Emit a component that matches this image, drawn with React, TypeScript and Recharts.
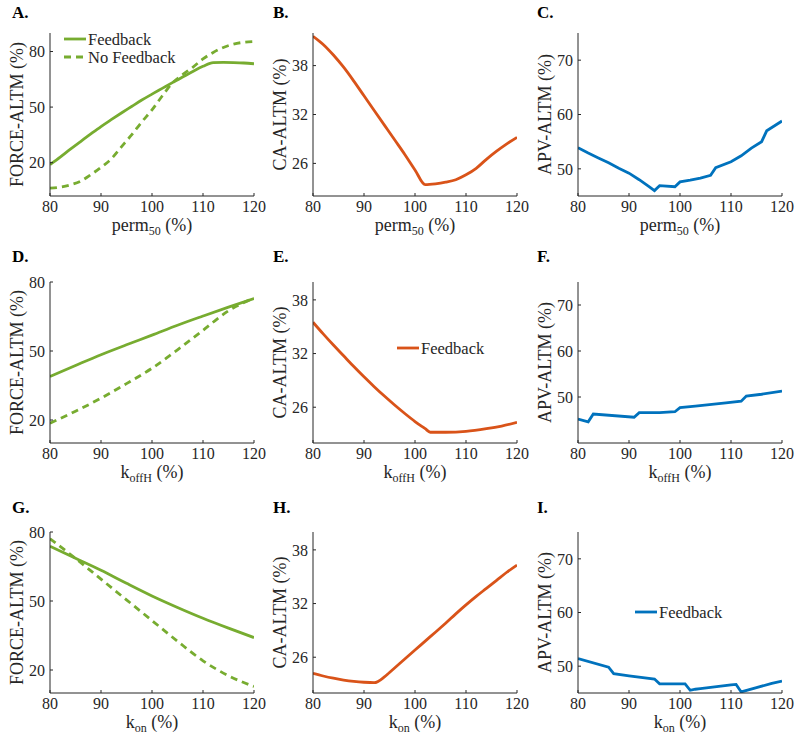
import React from 'react';
import { LineChart, Line, XAxis, YAxis, Legend } from 'recharts';

const GREEN = '#77AC30';
const ORANGE = '#D95319';
const BLUE = '#0072BD';
const AXIS = '#262626';
const FONT = '"Liberation Serif", "Times New Roman", Times, serif';

const xTicks = [80, 90, 100, 110, 120];

// A / B: perm50 sweep
const permX = [80, 82, 84, 86, 88, 90, 92, 94, 96, 98, 100, 102, 104, 106, 108, 110, 112, 114, 116, 118, 120];
const permForceFb = [19, 23, 27.3, 31.4, 35.5, 39.5, 43.2, 46.8, 50.3, 53.8, 57, 60.1, 63.2, 66.2, 69.2, 72, 74, 74.1, 74, 73.8, 73.4];
const permForceNoFb = [6.2, 6.8, 8, 10, 13.5, 17.5, 22, 28.5, 35, 42, 48.5, 56, 63, 67.5, 71.5, 76, 79.5, 82.2, 84, 85, 85.4];
const permCa = [41.6, 40.6, 39.3, 37.8, 36.1, 34.3, 32.5, 30.7, 28.9, 27.1, 25.2, 23.4, 23.5, 23.7, 24, 24.6, 25.4, 26.5, 27.5, 28.4, 29.2];

// C: perm50 -> APV
const permApvX = [80, 82, 84, 86, 88, 90, 92, 94, 95, 96, 99, 100, 102, 104, 106, 107, 110, 112, 114, 116, 117, 120];
const permApv = [53.9, 52.9, 52, 51.1, 50.1, 49.2, 48, 46.7, 46, 46.9, 46.7, 47.6, 47.9, 48.3, 48.8, 50.2, 51.3, 52.4, 53.8, 55, 57, 58.8];

// D: koffH -> force
const koffX = [80, 85, 90, 95, 100, 105, 110, 115, 120];
const koffForceFb = [38.9, 43.7, 48.4, 52.7, 56.9, 61.2, 65.2, 69.1, 72.8];
const koffForceNoFb = [18.6, 23.8, 29.5, 35.8, 42.5, 50.5, 59, 67.5, 73];

// E: koffH -> CA
const koffCaX = [80, 82, 84, 86, 88, 90, 92, 94, 96, 98, 100, 102, 103, 106, 110, 114, 117, 120];
const koffCa = [35.5, 34.2, 32.95, 31.75, 30.55, 29.4, 28.3, 27.25, 26.25, 25.3, 24.4, 23.6, 23.2, 23.2, 23.3, 23.6, 23.9, 24.3];

// F: koffH -> APV
const koffApvX = [80, 82, 83, 91, 92, 96, 99, 100, 103, 109, 112, 113, 116, 120];
const koffApv = [45.2, 44.6, 46.3, 45.6, 46.6, 46.6, 46.8, 47.7, 48, 48.7, 49.1, 50.2, 50.6, 51.3];

// G: kon -> force
const konX = [80, 85, 90, 95, 100, 105, 110, 115, 120];
const konForceFb = [73.8, 68.6, 63.4, 57.7, 52.2, 47.2, 42.5, 38.2, 34.1];
const konForceNoFb = [77.1, 68.5, 59.5, 50.5, 41.5, 32.5, 24, 17.5, 12.8];

// H: kon -> CA
const konCaX = [80, 82, 84, 86, 88, 90, 92, 94, 95, 96, 98, 100, 102, 104, 106, 108, 110, 112, 114, 116, 118, 120];
const konCa = [24.2, 23.9, 23.65, 23.45, 23.3, 23.2, 23.15, 23.8, 24.3, 24.8, 25.8, 26.8, 27.8, 28.8, 29.8, 30.85, 31.85, 32.8, 33.7, 34.6, 35.5, 36.3];

// I: kon -> APV
const konApvX = [80, 86, 87, 90, 95, 96, 101, 102, 103, 104, 110, 111, 112, 115, 118, 120];
const konApv = [51.4, 49.8, 48.6, 48.2, 47.6, 46.7, 46.7, 45.5, 45.7, 45.8, 46.5, 46.6, 45.2, 46, 46.8, 47.2];

const forceTicks = [20, 50, 80];
const caTicks = [26, 32, 38];
const apvTicks = [50, 60, 70];

type Series = { name: string; values: number[]; color: string; dashed?: boolean };

type PanelProps = {
  col: number;
  row: number;
  xs: number[];
  series: Series[];
  yDomain: [number, number];
  yTicks: number[];
  yLabel: string;
  xBase: string;
  xSub: string;
  curve: 'monotone' | 'linear';
  legend?: { left: number; top: number };
};

const plotXs = [50, 313, 578];
const plotYs = [33, 282, 532];
const plotHs = [163, 161, 161];
const plotW = 204;
const legendRow = 18;

const yLabelRenderer = (text: string) => (props: any) => {
  const vb = props.viewBox;
  const cx = vb.x + 17;
  const cy = vb.y + vb.height / 2;
  return (
    <text
      x={cx}
      y={cy}
      transform={`rotate(-90 ${cx} ${cy})`}
      textAnchor="middle"
      dominantBaseline="central"
      fontSize={18}
      fill={AXIS}
      fontFamily={FONT}
    >
      {text}
    </text>
  );
};

const xLabelRenderer = (base: string, sub: string) => (props: any) => {
  const vb = props.viewBox;
  return (
    <text x={vb.x + vb.width / 2} y={vb.y + 35} textAnchor="middle" fontSize={18} fill={AXIS} fontFamily={FONT}>
      {base}
      <tspan fontSize={12} dy={4}>{sub}</tspan>
      <tspan dy={-4}>{' (%)'}</tspan>
    </text>
  );
};

const legendRenderer = (series: Series[]) => () => (
  <svg width={140} height={series.length * legendRow + 2} style={{ overflow: 'visible' }}>
    {series.map((s, i) => (
      <g key={s.name}>
        <line
          x1={0}
          x2={22}
          y1={8 + i * legendRow}
          y2={8 + i * legendRow}
          stroke={s.color}
          strokeWidth={2.8}
          strokeDasharray={s.dashed ? '7 5' : undefined}
        />
        <text x={24} y={8 + i * legendRow} dominantBaseline="central" fontSize={16.5} fill={AXIS} fontFamily={FONT}>
          {s.name}
        </text>
      </g>
    ))}
  </svg>
);

const Panel = ({ col, row, xs, series, yDomain, yTicks, yLabel, xBase, xSub, curve, legend }: PanelProps) => {
  const plotH = plotHs[row];
  const left = plotXs[col] - 50;
  const top = plotYs[row] - 33;
  const width = 50 + plotW + 16;
  const height = 33 + plotH + 45;
  const data = xs.map((x, i) => {
    const rowObj: Record<string, number> = { x };
    series.forEach((s, j) => {
      rowObj[`s${j}`] = s.values[i];
    });
    return rowObj;
  });

  return (
    <div style={{ position: 'absolute', left, top, width, height }}>
      <LineChart width={width} height={height} data={data} margin={{ top: 33, right: 16, bottom: 0, left: 0 }}>
        <XAxis
          dataKey="x"
          type="number"
          domain={[80, 120]}
          ticks={xTicks}
          interval={0}
          allowDataOverflow
          height={45}
          stroke={AXIS}
          tickSize={-3}
          tickMargin={8}
          tick={{ fontSize: 16, fill: AXIS, fontFamily: FONT }}
          label={xLabelRenderer(xBase, xSub)}
        />
        <YAxis
          type="number"
          domain={yDomain}
          ticks={yTicks}
          interval={0}
          allowDataOverflow
          width={50}
          stroke={AXIS}
          tickSize={-3}
          tickMargin={8}
          tick={{ fontSize: 16, fill: AXIS, fontFamily: FONT }}
          label={yLabelRenderer(yLabel)}
        />
        {series.map((s, j) => (
          <Line
            key={s.name}
            type={curve}
            dataKey={`s${j}`}
            name={s.name}
            stroke={s.color}
            strokeWidth={2.8}
            strokeDasharray={s.dashed ? '7 5' : undefined}
            dot={false}
            activeDot={false}
            isAnimationActive={false}
          />
        ))}
        {legend && (
          <Legend
            layout="vertical"
            align="center"
            verticalAlign="middle"
            content={legendRenderer(series)}
            wrapperStyle={{ left: legend.left, top: legend.top, width: 140 }}
          />
        )}
      </LineChart>
    </div>
  );
};

const letters = ['A.', 'B.', 'C.', 'D.', 'E.', 'F.', 'G.', 'H.', 'I.'];
const letterXs = [12, 273, 537];
const letterYs = [18, 262, 513];

const fb = (values: number[], color: string): Series => ({ name: 'Feedback', values, color });
const nofb = (values: number[], color: string): Series => ({ name: 'No Feedback', values, color, dashed: true });

export default function App() {
  return (
    <div
      style={{
        position: 'absolute',
        left: 0,
        top: 0,
        width: 800,
        height: 743,
        background: '#fff',
        fontFamily: FONT,
        overflow: 'hidden',
      }}
    >
      <Panel
        col={0}
        row={0}
        xs={permX}
        series={[fb(permForceFb, GREEN), nofb(permForceNoFb, GREEN)]}
        yDomain={[2, 90]}
        yTicks={forceTicks}
        yLabel="FORCE-ALTM (%)"
        xBase="perm"
        xSub="50"
        curve="monotone"
        legend={{ left: 64, top: 31 }}
      />
      <Panel
        col={1}
        row={0}
        xs={permX}
        series={[fb(permCa, ORANGE)]}
        yDomain={[22, 42]}
        yTicks={caTicks}
        yLabel="CA-ALTM (%)"
        xBase="perm"
        xSub="50"
        curve="monotone"
      />
      <Panel
        col={2}
        row={0}
        xs={permApvX}
        series={[fb(permApv, BLUE)]}
        yDomain={[45, 75]}
        yTicks={apvTicks}
        yLabel="APV-ALTM (%)"
        xBase="perm"
        xSub="50"
        curve="linear"
      />
      <Panel
        col={0}
        row={1}
        xs={koffX}
        series={[fb(koffForceFb, GREEN), nofb(koffForceNoFb, GREEN)]}
        yDomain={[10, 80]}
        yTicks={forceTicks}
        yLabel="FORCE-ALTM (%)"
        xBase="k"
        xSub="offH"
        curve="monotone"
      />
      <Panel
        col={1}
        row={1}
        xs={koffCaX}
        series={[fb(koffCa, ORANGE)]}
        yDomain={[22, 40]}
        yTicks={caTicks}
        yLabel="CA-ALTM (%)"
        xBase="k"
        xSub="offH"
        curve="monotone"
        legend={{ left: 134, top: 91 }}
      />
      <Panel
        col={2}
        row={1}
        xs={koffApvX}
        series={[fb(koffApv, BLUE)]}
        yDomain={[40, 75]}
        yTicks={apvTicks}
        yLabel="APV-ALTM (%)"
        xBase="k"
        xSub="offH"
        curve="linear"
      />
      <Panel
        col={0}
        row={2}
        xs={konX}
        series={[fb(konForceFb, GREEN), nofb(konForceNoFb, GREEN)]}
        yDomain={[10, 80]}
        yTicks={forceTicks}
        yLabel="FORCE-ALTM (%)"
        xBase="k"
        xSub="on"
        curve="monotone"
      />
      <Panel
        col={1}
        row={2}
        xs={konCaX}
        series={[fb(konCa, ORANGE)]}
        yDomain={[22, 40]}
        yTicks={caTicks}
        yLabel="CA-ALTM (%)"
        xBase="k"
        xSub="on"
        curve="monotone"
      />
      <Panel
        col={2}
        row={2}
        xs={konApvX}
        series={[fb(konApv, BLUE)]}
        yDomain={[45, 75]}
        yTicks={apvTicks}
        yLabel="APV-ALTM (%)"
        xBase="k"
        xSub="on"
        curve="linear"
        legend={{ left: 107, top: 105 }}
      />
      <svg width={800} height={743} style={{ position: 'absolute', left: 0, top: 0, pointerEvents: 'none' }}>
        {letters.map((l, i) => (
          <text
            key={l}
            x={letterXs[i % 3]}
            y={letterYs[Math.floor(i / 3)]}
            fontSize={17}
            fontWeight="bold"
            fill="#000"
            fontFamily={FONT}
          >
            {l}
          </text>
        ))}
      </svg>
    </div>
  );
}
